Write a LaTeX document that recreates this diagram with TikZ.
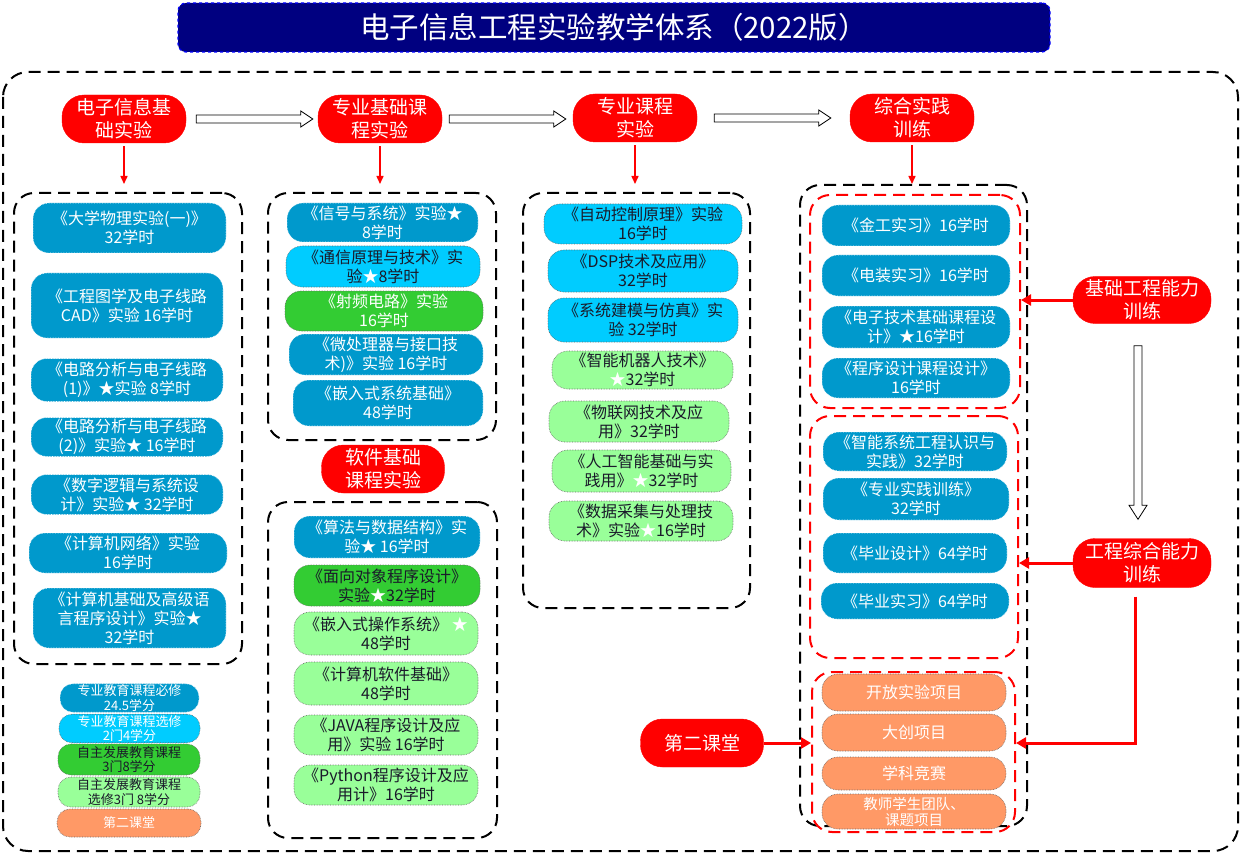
\documentclass[tikz,border=0pt]{standalone}
\usepackage{fontspec}
\setmainfont{Noto Sans CJK SC}
\usepackage{tikz}
\usetikzlibrary{positioning,arrows.meta,calc}

\definecolor{bxnavy}{HTML}{000080}
\definecolor{bxblue}{HTML}{0099CC}
\definecolor{bxcyan}{HTML}{00CCFF}
\definecolor{bxgreen}{HTML}{33CC33}
\definecolor{bxlgreen}{HTML}{99FF99}
\definecolor{bxorange}{HTML}{FF9966}
\definecolor{bxdark}{HTML}{1A1A2A}

\newcommand{\wxing}{{\color{white}★}}

\tikzset{
  hollowright/.style={draw=black, fill=white, line width=0.8pt, to path={
    let \p1=(\tikztostart), \p2=(\tikztotarget) in
    (\x1,\y1+4pt) -- (\x2-12pt,\y1+4pt) -- (\x2-12pt,\y1+8pt) -- (\x2,\y1)
    -- (\x2-12pt,\y1-8pt) -- (\x2-12pt,\y1-4pt) -- (\x1,\y1-4pt) -- cycle}},
  hollowdown/.style={draw=black, fill=white, line width=0.8pt, to path={
    let \p1=(\tikztostart), \p2=(\tikztotarget) in
    (\x1-4pt,\y1) -- (\x1-4pt,\y2+14pt) -- (\x1-9pt,\y2+14pt) -- (\x1,\y2)
    -- (\x1+9pt,\y2+14pt) -- (\x1+4pt,\y2+14pt) -- (\x1+4pt,\y1) -- cycle}},
  groupbox/.style={draw=black, line width=2pt, dash pattern=on 12pt off 7pt,
    rounded corners=20pt, inner sep=0pt},
  redgroup/.style={groupbox, draw=red},
  redlabel/.style={fill=red, draw=red, rounded corners=22pt, text=white, align=center,
    font=\fontsize{19}{23}\selectfont, minimum width=124pt, minimum height=48pt, inner sep=1pt},
  cbox/.style={rounded corners=16pt, densely dotted, line width=0.6pt, align=center,
    inner sep=1pt, minimum width=190pt, minimum height=40pt},
  bluebox/.style={cbox, fill=bxblue, draw=white, text=white},
  cyanbox/.style={cbox, fill=bxcyan, draw=black!60, text=bxdark},
  greenbox/.style={cbox, fill=bxgreen, draw=black!60, text=white},
  lgreenbox/.style={cbox, fill=bxlgreen, draw=black!60, text=bxdark},
  orangebox/.style={cbox, fill=bxorange, draw=black!60, text=white},
  legend/.style={font=\fontsize{13}{14.5}\selectfont, rounded corners=13pt,
    minimum height=28pt, minimum width=140pt},
  reddown/.style={red, line width=1.5pt, -{Triangle[length=8pt,width=7pt]}},
  redthick/.style={red, line width=3pt, -{Triangle[length=10pt,width=11pt]}}
}

\begin{document}
\begin{tikzpicture}[
  x=1pt, y=-1pt,
  font=\fontsize{16}{19}\selectfont
]
\useasboundingbox (0,0) rectangle (1240,853);

% title and frame
\node[fill=bxnavy, draw=blue, dashed, line width=1.2pt, rounded corners=8pt, minimum width=872pt,
  minimum height=49pt, text=white, font=\fontsize{29.5}{33}\selectfont] (title) at (614,27.5)
  {电子信息工程实验教学体系（2022版）};
\draw[groupbox, rounded corners=25pt] (3,72) rectangle (1238,851);

% stages
\node[redlabel] (h1) at (124,119) {电子信息基\\础实验};
\node[redlabel] (h2) at (380,119) {专业基础课\\程实验};
\node[redlabel] (h3) at (635,118) {专业课程\\实验};
\node[redlabel] (h4) at (912,118) {综合实践\\训练};
\node[redlabel, minimum width=123pt] (r5) at (383,469) {软件基础\\课程实验};
\node[redlabel, minimum width=138pt, minimum height=47pt] (m1) at (1142,300) {基础工程能力\\训练};
\node[redlabel, minimum width=138pt, minimum height=49pt] (m2) at (1142,563) {工程综合能力\\训练};
\node[redlabel, minimum width=123pt] (m3) at (702,743) {第二课堂};

% group frames
\node[groupbox, minimum width=228pt, minimum height=471pt] (g1) at (128,428.5) {};
\node[groupbox, minimum width=228pt, minimum height=247pt] (g2) at (382,316.5) {};
\node[groupbox, minimum width=229pt, minimum height=336pt] (g2b) at (382.5,670) {};
\node[groupbox, minimum width=227pt, minimum height=415pt] (g3) at (636.5,400.5) {};
\node[groupbox, minimum width=227pt, minimum height=641pt] (g4) at (913.5,505.5) {};
\node[redgroup, minimum width=210pt, minimum height=213pt] (s1) at (915,301.5) {};
\node[redgroup, minimum width=208pt, minimum height=242pt] (s2) at (914,537) {};
\node[redgroup, minimum width=203pt, minimum height=160pt] (s3) at (913.5,752) {};

% column 1
\node[bluebox, minimum width=193pt, minimum height=50pt] (c11) at (129.5,228) {《大学物理实验(一)》\\32学时};
\node[bluebox, minimum width=192pt, minimum height=65pt] (c12) at (127,305.5) {《工程图学及电子线路\\CAD》实验 16学时};
\node[bluebox, minimum width=192pt, minimum height=43pt] (c13) at (127,380) {《电路分析与电子线路\\(1)》★实验 8学时};
\node[bluebox, minimum width=192pt, minimum height=39pt] (c14) at (127,437) {《电路分析与电子线路\\(2)》实验★ 16学时};
\node[bluebox, minimum width=192pt] (c15) at (127,494.5) {《数字逻辑与系统设\\计》实验★ 32学时};
\node[bluebox, minimum width=198pt] (c16) at (128,553) {《计算机网络》实验\\16学时};
\node[bluebox, minimum width=193pt, minimum height=60pt] (c17) at (129.5,618) {《计算机基础及高级语\\言程序设计》实验★\\32学时};

% column 2
\node[bluebox, minimum width=191pt, minimum height=39pt] (c21) at (382.5,222.5) {《信号与系统》实验★\\8学时};
\node[cyanbox, minimum width=194pt, minimum height=41pt] (c22) at (383,266.5) {《通信原理与技术》实\\验\wxing 8学时};
\node[greenbox, minimum width=198pt] (c23) at (384,311) {《射频电路》实验\\16学时};
\node[bluebox, minimum width=194pt, minimum height=41pt] (c24) at (386,354.5) {《微处理器与接口技\\术)》实验 16学时};
\node[bluebox, minimum width=190pt, minimum height=46pt] (c25) at (388,403) {《嵌入式系统基础》\\48学时};

\node[bluebox, minimum width=186pt, minimum height=42pt] (c31) at (387,537) {《算法与数据结构》实\\验★ 16学时};
\node[greenbox, text=bxdark, minimum width=186pt, minimum height=41pt] (c32) at (387,585.5) {《面向对象程序设计》\\实验\wxing 32学时};
\node[lgreenbox, minimum width=184pt, minimum height=43pt] (c33) at (386,633.5) {《嵌入式操作系统》 \wxing\\48学时};
\node[lgreenbox, minimum width=184pt, minimum height=43pt] (c34) at (386,683.5) {《计算机软件基础》\\48学时};
\node[lgreenbox, minimum width=184pt] (c35) at (386,735) {《JAVA程序设计及应\\用》实验 16学时};
\node[lgreenbox, minimum width=184pt] (c36) at (386,785) {《Python程序设计及应\\用计》16学时};

% column 3
\node[cyanbox, minimum width=198pt] (c41) at (643,224) {《自动控制原理》实验\\16学时};
\node[cyanbox, minimum height=42pt] (c42) at (643,271) {《DSP技术及应用》\\32学时};
\node[cyanbox, minimum height=44pt] (c43) at (643,320) {《系统建模与仿真》实\\验 32学时};
\node[lgreenbox, minimum width=181pt, minimum height=38pt] (c44) at (642.5,370) {《智能机器人技术》\\\wxing 32学时};
\node[lgreenbox, minimum width=180pt, minimum height=41pt] (c45) at (639,421.5) {《物联网技术及应\\用》32学时};
\node[lgreenbox, minimum width=179pt, minimum height=42pt] (c46) at (641.5,471) {《人工智能基础与实\\践用》\wxing 32学时};
\node[lgreenbox, minimum width=184pt] (c47) at (641,521) {《数据采集与处理技\\术》实验\wxing 16学时};

% column 4
\node[bluebox, minimum width=188pt, minimum height=41pt] (c51) at (916,225.5) {《金工实习》16学时};
\node[bluebox, minimum width=188pt, minimum height=41pt] (c52) at (916,275.5) {《电装实习》16学时};
\node[bluebox, minimum width=188pt, minimum height=42pt] (c53) at (916,327) {《电子技术基础课程设\\计》★16学时};
\node[bluebox, minimum width=188pt] (c54) at (916,378) {《程序设计课程设计》\\16学时};
\node[bluebox, minimum width=184pt, minimum height=39pt] (c61) at (915,451.5) {《智能系统工程认识与\\实践》32学时};
\node[bluebox, minimum width=186pt, minimum height=42pt] (c62) at (916,499) {《专业实践训练》\\32学时};
\node[bluebox, minimum width=184pt] (c63) at (915,553) {《毕业设计》64学时};
\node[bluebox, minimum width=188pt, minimum height=36pt] (c64) at (915,601) {《毕业实习》64学时};
\node[orangebox, minimum width=184pt, minimum height=37pt] (c71) at (914,692.5) {开放实验项目};
\node[orangebox, minimum width=184pt, minimum height=37pt] (c72) at (914,732.5) {大创项目};
\node[orangebox, minimum width=184pt, minimum height=33pt] (c73) at (914,773.5) {学科竞赛};
\node[orangebox, minimum width=184pt, minimum height=35pt, font=\fontsize{14.5}{16}\selectfont] (c74) at (914,811.5) {教师学生团队、\\课题项目};

% legend
\node[bluebox, legend, minimum width=139pt] (l1) at (129.5,698) {专业教育课程必修\\24.5学分};
\node[cyanbox, legend, text=white, minimum width=141pt, minimum height=27pt] (l2) at (129.5,728.5) {专业教育课程选修\\2门4学分};
\node[greenbox, legend, text=bxdark, minimum width=142pt, minimum height=31pt] (l3) at (129,759.5) {自主发展教育课程\\3门8学分};
\node[lgreenbox, legend, minimum width=142pt, minimum height=30pt] (l4) at (129,792) {自主发展教育课程\\选修3门 8学分};
\node[orangebox, legend, minimum width=144pt] (l5) at (129,823) {第二课堂};

% connectors
\draw[hollowright] ([xshift=10pt]h1.east) to ([xshift=-5pt]h2.west);
\draw[hollowright] ([xshift=7pt]h2.east) to ([xshift=-7pt]h3.west);
\draw[hollowright] ([xshift=17pt]h3.east) to ([xshift=-19pt]h4.west);
\draw[hollowdown] ([xshift=-4pt,yshift=-22pt]m1.south) to ([xshift=-4pt,yshift=19pt]m2.north);

\foreach \h/\g in {h1/g1,h2/g2,h3/g3}
  \draw[reddown] ([yshift=-3pt]\h.south) -- ([yshift=8pt]\h.south |- \g.north);
\draw[reddown] ([yshift=-3pt]h4.south) -- (h4.south |- g4.north);

\draw[redthick] (m1.west) -- (m1.west -| s1.east);
\draw[redthick] (m2.west) -- (m2.west -| s2.east);
\draw[redthick] (m3.east) -- (m3.east -| s3.west);
\draw[redthick] ([xshift=-7pt,yshift=-9pt]m2.south) |- (m3.east -| s3.east);
\end{tikzpicture}
\end{document}
